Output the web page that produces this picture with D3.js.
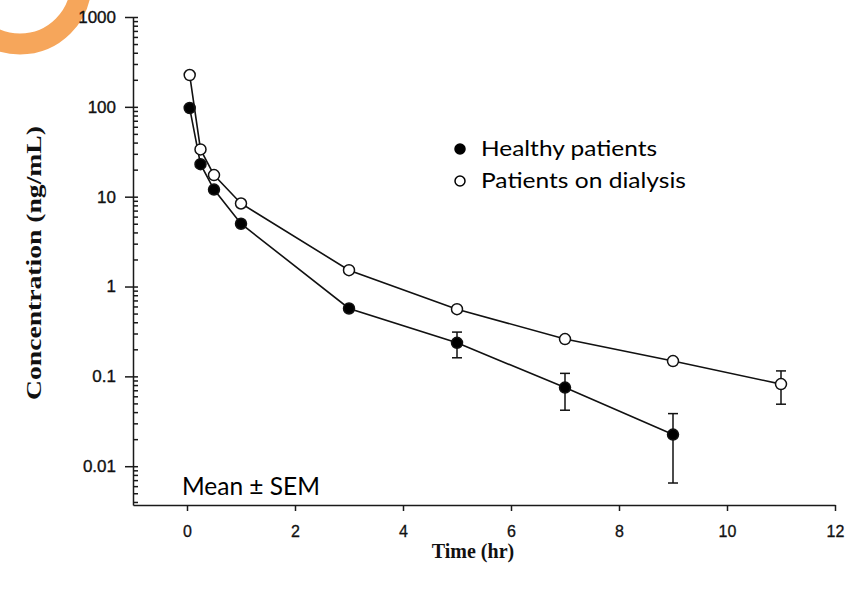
<!DOCTYPE html>
<html>
<head>
<meta charset="utf-8">
<script src="https://cdn.jsdelivr.net/npm/d3@7"></script>
<style>
  html, body { margin: 0; padding: 0; background: #ffffff; }
  svg { display: block; }
</style>
</head>
<body>
<svg id="chart" width="854" height="593"></svg>
<script>
// Plasma concentration–time profiles (mean ± SEM)
const healthyTimes = [0.05, 0.25, 0.5, 1, 3, 5, 7, 9];
const healthyMean  = [97, 23, 12, 5.0, 0.57, 0.236, 0.075, 0.0225];
const healthySem   = [0, 0, 0, 0, 0, 0.075, 0.033, 0.016];

const dialysisTimes = [0.05, 0.25, 0.5, 1, 3, 5, 7, 9, 11];
const dialysisMean  = [226, 33.6, 17.4, 8.4, 1.52, 0.56, 0.26, 0.148, 0.082];
const dialysisSem   = [0, 0, 0, 0, 0, 0, 0, 0, 0.033];

const xTicks = [0, 2, 4, 6, 8, 10, 12];
const yTicks = [0.01, 0.1, 1, 10, 100, 1000];
const yTickLabels = ["0.01", "0.1", "1", "10", "100", "1000"];

const legendLabels = ["Healthy patients", "Patients on dialysis"];
const noteText = "Mean ± SEM";
const xTitle = "Time (hr)";
const yTitle = "Concentration (ng/mL)";

const svg = d3.select("#chart");

// decorative orange ring in the corner
svg.append("circle")
  .attr("cx", 20).attr("cy", -17).attr("r", 61)
  .attr("fill", "none")
  .attr("stroke", "#F6A65B")
  .attr("stroke-width", 21);

const x = d3.scaleLinear().domain([-1, 12]).range([133, 835]);
const y = d3.scaleLog().domain([0.0037, 1000]).range([505, 17]);

const axisFont = "'Liberation Sans', Arial, sans-serif";
const serifFont = "'Liberation Serif', 'Times New Roman', serif";
const sansFont = "Lato, 'Open Sans', sans-serif";

// y axis: major ticks to the left, minor ticks to the right
const yMinor = svg.append("g")
  .attr("transform", `translate(${x(-1)},0)`)
  .call(d3.axisLeft(y).ticks(8).tickFormat("").tickSize(-5).tickSizeOuter(0));
yMinor.select(".domain").remove();

const yAxis = svg.append("g")
  .attr("transform", `translate(${x(-1)},0)`)
  .call(d3.axisLeft(y)
    .tickValues(yTicks)
    .tickFormat((d, i) => yTickLabels[i])
    .tickSize(8)
    .tickSizeOuter(0)
    .tickPadding(9));
yAxis.attr("font-size", null).attr("font-family", null);
yAxis.selectAll("text")
  .style("font-family", axisFont)
  .style("font-size", "17px")
  .attr("fill", "#111")
  .attr("stroke", "#111")
  .attr("stroke-width", 0.35);

// x axis
const xAxis = svg.append("g")
  .attr("transform", `translate(0,${y.range()[0]})`)
  .call(d3.axisBottom(x)
    .tickValues(xTicks)
    .tickFormat(d3.format("d"))
    .tickSize(6)
    .tickSizeOuter(0)
    .tickPadding(15));
xAxis.attr("font-size", null).attr("font-family", null);
xAxis.selectAll("text")
  .style("font-family", axisFont)
  .style("font-size", "16px")
  .attr("fill", "#111")
  .attr("stroke", "#111")
  .attr("stroke-width", 0.3);

svg.selectAll(".domain, .tick line")
  .attr("stroke", "#1a1a1a")
  .attr("stroke-width", 1.5);

// axis titles
svg.append("text")
  .attr("x", 473).attr("y", 558)
  .attr("text-anchor", "middle")
  .style("font-family", serifFont)
  .style("font-weight", "bold")
  .style("font-size", "20px")
  .attr("fill", "#111")
  .text(xTitle);

svg.append("text")
  .attr("transform", "translate(41,263) rotate(-90)")
  .attr("text-anchor", "middle")
  .style("font-family", serifFont)
  .style("font-weight", "bold")
  .style("font-size", "22px")
  .attr("textLength", 274)
  .attr("lengthAdjust", "spacingAndGlyphs")
  .attr("fill", "#111")
  .text(yTitle);

// series
const series = [
  { t: healthyTimes, m: healthyMean, s: healthySem, fill: "#000" },
  { t: dialysisTimes, m: dialysisMean, s: dialysisSem, fill: "#fff" }
];

const line = d3.line().x(d => x(d.t)).y(d => y(d.m));

series.forEach(ser => {
  const pts = ser.t.map((t, i) => ({ t, m: ser.m[i], s: ser.s[i] }));

  svg.append("path")
    .datum(pts)
    .attr("d", line)
    .attr("fill", "none")
    .attr("stroke", "#111")
    .attr("stroke-width", 1.6);

  const bars = svg.append("g")
    .attr("stroke", "#111")
    .attr("stroke-width", 1.5)
    .selectAll("g")
    .data(pts.filter(d => d.s > 0))
    .join("g");
  bars.append("line")
    .attr("x1", d => x(d.t)).attr("x2", d => x(d.t))
    .attr("y1", d => y(d.m + d.s)).attr("y2", d => y(d.m - d.s));
  bars.append("line")
    .attr("x1", d => x(d.t) - 5).attr("x2", d => x(d.t) + 5)
    .attr("y1", d => y(d.m + d.s)).attr("y2", d => y(d.m + d.s));
  bars.append("line")
    .attr("x1", d => x(d.t) - 5).attr("x2", d => x(d.t) + 5)
    .attr("y1", d => y(d.m - d.s)).attr("y2", d => y(d.m - d.s));

  svg.append("g")
    .selectAll("circle")
    .data(pts)
    .join("circle")
    .attr("cx", d => x(d.t))
    .attr("cy", d => y(d.m))
    .attr("r", 5.5)
    .attr("fill", ser.fill)
    .attr("stroke", "#111")
    .attr("stroke-width", 1.5);
});

// legend
const legend = svg.append("g");
const legendRows = [
  { label: legendLabels[0], fill: "#000", cy: 149, base: 156, len: 176 },
  { label: legendLabels[1], fill: "#fff", cy: 181, base: 188, len: 205 }
];
legendRows.forEach(r => {
  legend.append("circle")
    .attr("cx", 460).attr("cy", r.cy).attr("r", 5)
    .attr("fill", r.fill)
    .attr("stroke", "#000")
    .attr("stroke-width", 1.5);
  legend.append("text")
    .attr("x", 481).attr("y", r.base)
    .style("font-family", sansFont)
    .style("font-size", "22px")
    .attr("textLength", r.len)
    .attr("lengthAdjust", "spacingAndGlyphs")
    .attr("fill", "#000")
    .text(r.label);
});

svg.append("text")
  .attr("x", 182).attr("y", 495)
  .style("font-family", sansFont)
  .style("font-size", "25px")
  .attr("textLength", 138)
  .attr("lengthAdjust", "spacingAndGlyphs")
  .attr("fill", "#000")
  .text(noteText);
</script>
</body>
</html>
